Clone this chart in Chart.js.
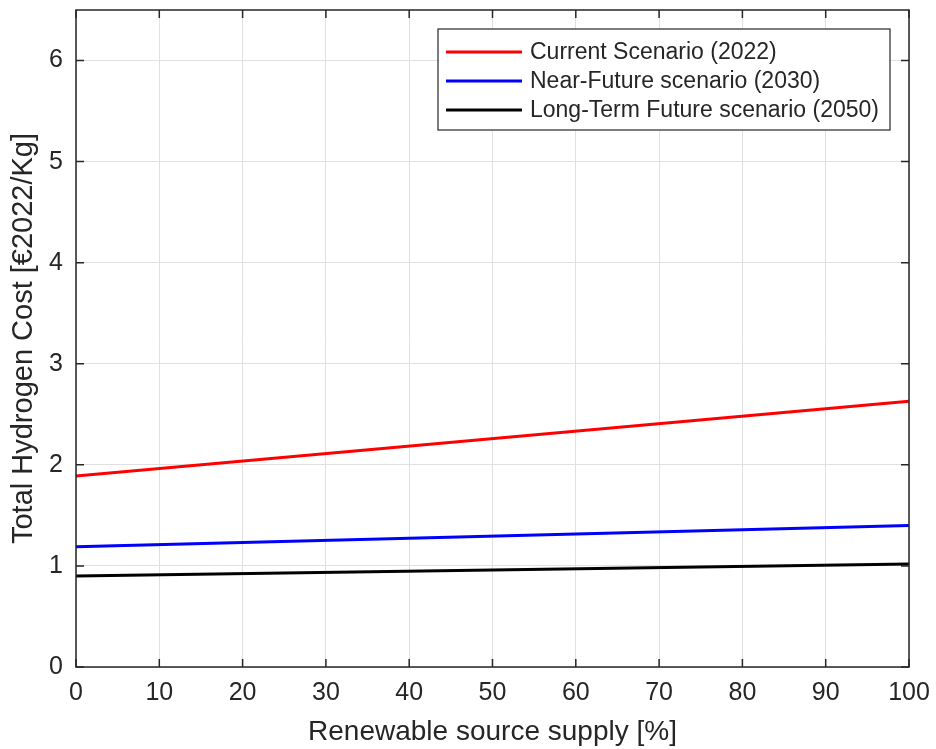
<!DOCTYPE html>
<html lang="en">
<head>
    <meta charset="UTF-8">
    <title>Total Hydrogen Cost</title>
    <script src="https://cdn.jsdelivr.net/npm/chart.js"></script>
    <style>
        body { margin: 0; background: #fff; }
        #wrap { width: 936px; height: 749px; }
    </style>
</head>
<body>
    <div id="wrap"><canvas id="myChart" width="936" height="749"></canvas></div>

    <script>
        // values
        const supplyPct = [0, 100];
        const currentCost = [1.89, 2.63];
        const nearFutureCost = [1.19, 1.40];
        const longTermCost = [0.90, 1.02];
        const seriesNames = ['Current Scenario (2022)', 'Near-Future scenario (2030)', 'Long-Term Future scenario (2050)'];

        const axisColor = '#262626';
        const fontFamily = '"Liberation Sans", Arial, sans-serif';

        function toPoints(ys) {
            return supplyPct.map((x, i) => ({ x: x, y: ys[i] }));
        }

        // MATLAB-like box with inward ticks, plus the legend
        const boxPlugin = {
            id: 'box',
            afterDatasetsDraw(chart) {
                const ctx = chart.ctx;
                const a = chart.chartArea;
                const xs = chart.scales.x, ys = chart.scales.y;
                const len = 8;
                ctx.save();
                ctx.strokeStyle = axisColor;
                ctx.lineWidth = 1.5;
                ctx.strokeRect(a.left, a.top, a.right - a.left, a.bottom - a.top);
                ctx.beginPath();
                xs.ticks.forEach(t => {
                    const px = xs.getPixelForValue(t.value);
                    ctx.moveTo(px, a.bottom); ctx.lineTo(px, a.bottom - len);
                    ctx.moveTo(px, a.top); ctx.lineTo(px, a.top + len);
                });
                ys.ticks.forEach(t => {
                    const py = ys.getPixelForValue(t.value);
                    ctx.moveTo(a.left, py); ctx.lineTo(a.left + len, py);
                    ctx.moveTo(a.right, py); ctx.lineTo(a.right - len, py);
                });
                ctx.stroke();

                // legend box in upper right
                const bw = 452, bh = 101;
                const bx = a.right - 19 - bw, by = a.top + 19;
                ctx.fillStyle = '#fff';
                ctx.fillRect(bx, by, bw, bh);
                ctx.lineWidth = 1.2;
                ctx.strokeRect(bx, by, bw, bh);
                ctx.font = '23px ' + fontFamily;
                ctx.textBaseline = 'middle';
                chart.data.datasets.forEach((ds, i) => {
                    const ly = by + 23 + i * 29;
                    ctx.strokeStyle = ds.borderColor;
                    ctx.lineWidth = 3;
                    ctx.beginPath();
                    ctx.moveTo(bx + 8, ly); ctx.lineTo(bx + 84, ly);
                    ctx.stroke();
                    ctx.fillStyle = axisColor;
                    ctx.fillText(ds.label, bx + 92, ly + 1);
                });
                ctx.restore();
            }
        };

        const config = {
            type: 'line',
            data: {
                datasets: [{
                    label: seriesNames[0],
                    borderColor: 'rgb(255, 0, 0)',
                    data: toPoints(currentCost)
                }, {
                    label: seriesNames[1],
                    borderColor: 'rgb(0, 0, 255)',
                    data: toPoints(nearFutureCost)
                }, {
                    label: seriesNames[2],
                    borderColor: 'rgb(0, 0, 0)',
                    data: toPoints(longTermCost)
                }]
            },
            options: {
                responsive: false,
                animation: false,
                layout: { padding: { top: 10, right: 27, left: 0, bottom: 0 } },
                elements: {
                    line: { borderWidth: 3, tension: 0 },
                    point: { radius: 0 }
                },
                plugins: {
                    legend: { display: false },
                    tooltip: { enabled: false }
                },
                scales: {
                    x: {
                        type: 'linear',
                        min: 0, max: 100,
                        ticks: { stepSize: 10, color: axisColor, padding: 11, font: { family: fontFamily, size: 25 } },
                        grid: { color: '#e0e0e0', lineWidth: 1, drawTicks: false },
                        border: { display: false },
                        title: { display: true, text: 'Renewable source supply [%]', color: axisColor, padding: { top: 0, bottom: 0 }, font: { family: fontFamily, size: 28 } },
                        afterFit(scale) {
                            scale.height = 82;
                            scale.paddingLeft = 0;
                            scale.paddingRight = 0;
                        }
                    },
                    y: {
                        min: 0, max: 6.5,
                        ticks: { stepSize: 1, color: axisColor, padding: 13, font: { family: fontFamily, size: 25 } },
                        afterBuildTicks(scale) { scale.ticks = scale.ticks.filter(t => Number.isInteger(t.value)); },
                        grid: { color: '#e0e0e0', lineWidth: 1, drawTicks: false },
                        border: { display: false },
                        title: { display: true, text: 'Total Hydrogen Cost [€2022/Kg]', color: axisColor, padding: { top: 7, bottom: 0 }, font: { family: fontFamily, size: 29 } },
                        afterFit(scale) {
                            scale.width = 76;
                            scale.paddingTop = 0;
                            scale.paddingBottom = 0;
                        }
                    }
                }
            },
            plugins: [boxPlugin]
        };

        var myChart = new Chart(document.getElementById('myChart'), config);
    </script>
</body>
</html>
